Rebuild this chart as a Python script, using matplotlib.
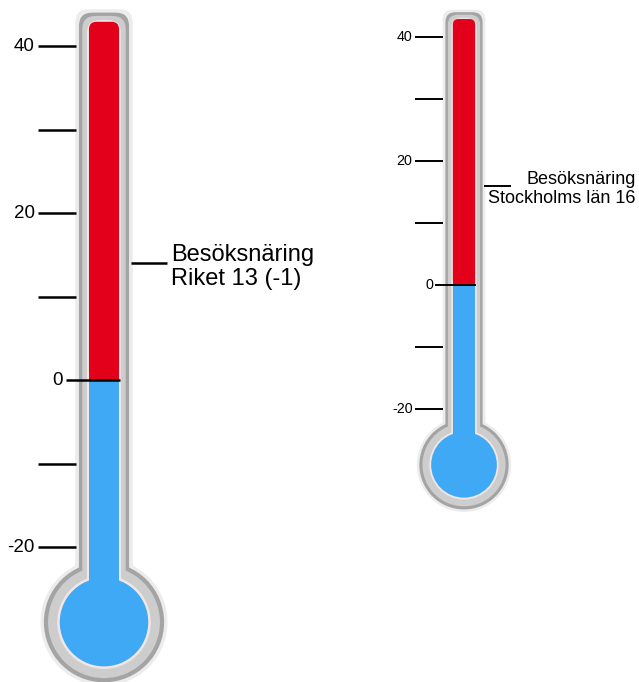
import numpy as np
import matplotlib.pyplot as plt
from matplotlib.patches import FancyBboxPatch, Circle, Rectangle

plt.rcParams['font.family'] = ['Liberation Sans', 'DejaVu Sans']

# ── data ──────────────────────────────────────────────────────────────────────
tick_values  = [-20, -10, 0, 10, 20, 30, 40]
label_values = [-20, 0, 20, 40]

riket_marker     = 14
riket_label      = "Besöksnäring\nRiket 13 (-1)"
stockholm_marker = 16
stockholm_label  = "Besöksnäring\nStockholms län 16"

C_RED  = "#e2001a"
C_BLUE = "#3fa9f5"

W, H = 639, 682
fig = plt.figure(figsize=(W / 100, H / 100), dpi=100)

# ── helpers ───────────────────────────────────────────────────────────────────
def thermo_axes(cx_px, zero_px, px_per_unit):
    x0, x1 = -12.5, 12.5
    y0, y1 = -40, 48
    left = (cx_px + x0 * px_per_unit) / W
    bottom = (H - (zero_px - y0 * px_per_unit)) / H
    ax = fig.add_axes([left, bottom, (x1 - x0) * px_per_unit / W,
                       (y1 - y0) * px_per_unit / H])
    ax.set_xlim(x0, x1)
    ax.set_ylim(y0, y1)
    ax.set_aspect("equal")
    ax.axis("off")
    return ax


def draw_body(ax, hw, r, top, color, bulb_y=-29):
    ax.add_patch(FancyBboxPatch((-hw, bulb_y), 2 * hw, top - bulb_y,
                                boxstyle=f"round,pad=0,rounding_size={min(hw, 1.6)}",
                                fc=color, ec="none"))
    ax.add_patch(Circle((0, bulb_y), r, fc=color, ec="none"))


def thermometer(ax, marker, label, fs_tick, fs_label, lw, text_x, text_ha):
    # glass layers
    draw_body(ax, 3.45, 7.6, 44.4, "#ececec")
    draw_body(ax, 3.0, 7.2, 44.0, "#a4a4a4")
    draw_body(ax, 2.6, 6.7, 43.6, "#cdcdcd")
    draw_body(ax, 2.05, 5.6, 43.1, "#f2e6e6")
    # red column above zero (rounded top, square bottom)
    ax.add_patch(FancyBboxPatch((-1.8, 0), 3.6, 42.9,
                                boxstyle="round,pad=0,rounding_size=0.9",
                                fc=C_RED, ec="none"))
    ax.add_patch(Rectangle((-1.8, 0), 3.6, 20, fc=C_RED, ec="none"))
    # blue column below zero + bulb
    ax.add_patch(Rectangle((-1.8, -29), 3.6, 29, fc=C_BLUE, ec="none"))
    ax.add_patch(Circle((0, -29), 5.3, fc=C_BLUE, ec="none"))

    # ticks
    for v in tick_values:
        if v == 0:
            ax.plot([-4.6, 1.9], [v, v], color="black", lw=lw,
                    solid_capstyle="butt")
        else:
            ax.plot([-7.9, -3.4], [v, v], color="black", lw=lw,
                    solid_capstyle="butt")
    for v in label_values:
        x = -4.9 if v == 0 else -8.3
        ax.text(x, v, str(v), ha="right", va="center", fontsize=fs_tick)

    # marker
    ax.plot([3.2, 7.6], [marker, marker], color="black", lw=lw,
            solid_capstyle="butt")
    ax.text(text_x, marker - 0.5, label, ha=text_ha, va="center",
            fontsize=fs_label, linespacing=1.1, multialignment=text_ha)


ax_l = thermo_axes(104, 380, 8.35)
thermometer(ax_l, riket_marker, riket_label, 13.5, 17, 1.8, 8.0, "left")

ax_r = thermo_axes(464, 285, 6.2)
thermometer(ax_r, stockholm_marker, stockholm_label, 10.3, 13, 1.4, 27.7, "right")

plt.savefig("out.png", dpi=100)
